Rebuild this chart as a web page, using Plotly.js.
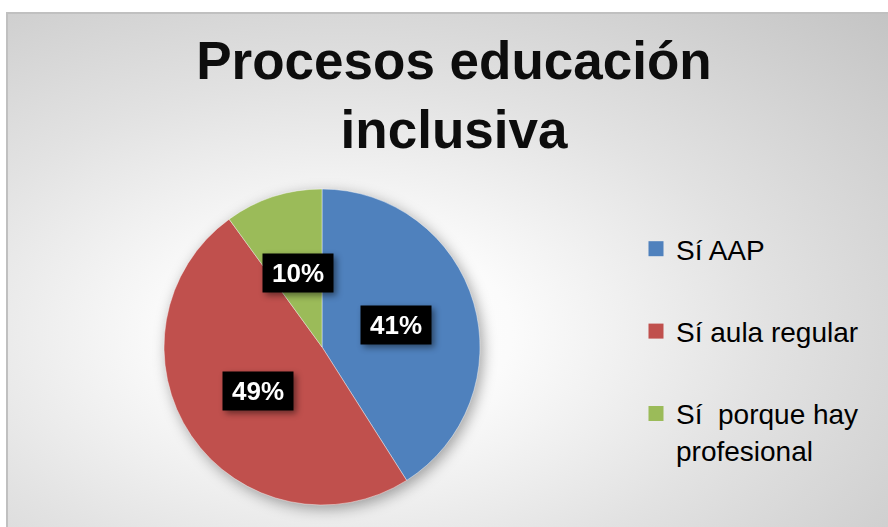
<!DOCTYPE html>
<html>
<head>
<meta charset="utf-8">
<script src="https://cdn.plot.ly/plotly-3.0.1.min.js"></script>
<style>
  html, body { margin: 0; padding: 0; background: #ffffff; width: 888px; height: 527px; overflow: hidden; }
  #bg { position: absolute; left: 6px; top: 12px; width: 882px; height: 515px;
        border-top: 2px solid #c0c0c0; border-left: 2px solid #c0c0c0; box-sizing: border-box;
        background: radial-gradient(ellipse farthest-corner at 38% 62%, #ffffff 0%, #fbfbfb 22%, #e2e2e2 55%, #c4c4c4 100%); }
  #chart { position: absolute; left: 0; top: 0; width: 888px; height: 527px; }
  .pielayer { filter: drop-shadow(3px 4px 7px rgba(0,0,0,0.35)); }
  .annotation { filter: drop-shadow(3px 3px 3px rgba(0,0,0,0.45)); }
</style>
</head>
<body>
<div id="bg"></div>
<div id="chart"></div>
<script>
const categories = ['Sí AAP', 'Sí aula regular', 'Sí\u00a0 porque hay<br>profesional'];
const values = [41, 49, 10];
const colors = ['#4F81BD', '#C0504D', '#9BBB59'];
const titleText = 'Procesos educación<br>inclusiva';

const W = 888, H = 527;
const pieDomain = { x: [164 / W, 480 / W], y: [22 / H, 338 / H] };

const total = values.reduce((a, b) => a + b, 0);
const pctLabels = values.map(v => Math.round(v / total * 100) + '%');

// label positions derived from slice angles (clockwise from 12 o'clock)
const cxPx = (pieDomain.x[0] + pieDomain.x[1]) / 2 * W;
const cyPx = (pieDomain.y[0] + pieDomain.y[1]) / 2 * H;
const rPx = Math.min((pieDomain.x[1] - pieDomain.x[0]) * W, (pieDomain.y[1] - pieDomain.y[0]) * H) / 2;
let cum = 0;
const annotations = values.map((v, i) => {
  const mid = (cum + v / 2) / total * 2 * Math.PI;
  cum += v;
  const d = 0.49 * rPx;
  return {
    xref: 'paper', yref: 'paper',
    x: (cxPx + d * Math.sin(mid)) / W,
    y: (cyPx + d * Math.cos(mid)) / H,
    text: '<b>' + pctLabels[i] + '</b>',
    showarrow: false,
    font: { family: 'Liberation Sans, Arial, sans-serif', size: 26, color: '#ffffff' },
    bgcolor: '#000000',
    width: 64, height: 32,
    borderpad: 3,
    xanchor: 'center', yanchor: 'middle'
  };
});

const pieTrace = {
  type: 'pie',
  values: values,
  labels: categories,
  sort: false,
  direction: 'clockwise',
  rotation: 0,
  textinfo: 'none',
  hoverinfo: 'label+percent',
  showlegend: false,
  domain: pieDomain,
  marker: { colors: colors, line: { color: 'rgba(255,255,255,0.7)', width: 0.6 } }
};

const legendTraces = categories.map((c, i) => ({
  type: 'scatter',
  x: [null], y: [null],
  mode: 'markers',
  name: c,
  legendgroup: 'g' + i,
  showlegend: true,
  hoverinfo: 'skip',
  marker: { symbol: 'square', size: 15, color: colors[i] }
}));

const layout = {
  width: W, height: H,
  margin: { l: 0, r: 0, t: 0, b: 0 },
  paper_bgcolor: 'rgba(0,0,0,0)',
  plot_bgcolor: 'rgba(0,0,0,0)',
  title: {
    text: '<b>' + titleText + '</b>',
    font: { family: 'Liberation Sans, Arial, sans-serif', size: 53, color: '#0d0d0d' },
    x: 454 / W, xanchor: 'center',
    y: 1 - 79 / H, yanchor: 'top',
    xref: 'paper', yref: 'container'
  },
  xaxis: { visible: false, domain: [0.99, 1] },
  yaxis: { visible: false, domain: [0.99, 1] },
  showlegend: true,
  legend: {
    x: 636 / W, xanchor: 'left',
    y: 1 - 224 / H, yanchor: 'top',
    font: { family: 'Liberation Sans, Arial, sans-serif', size: 28, color: '#000000' },
    bgcolor: 'rgba(0,0,0,0)',
    tracegroupgap: 43,
    valign: 'top',
    traceorder: 'grouped'
  },
  annotations: annotations
};

Plotly.newPlot('chart', [pieTrace].concat(legendTraces), layout, { displayModeBar: false, staticPlot: true });
</script>
</body>
</html>
